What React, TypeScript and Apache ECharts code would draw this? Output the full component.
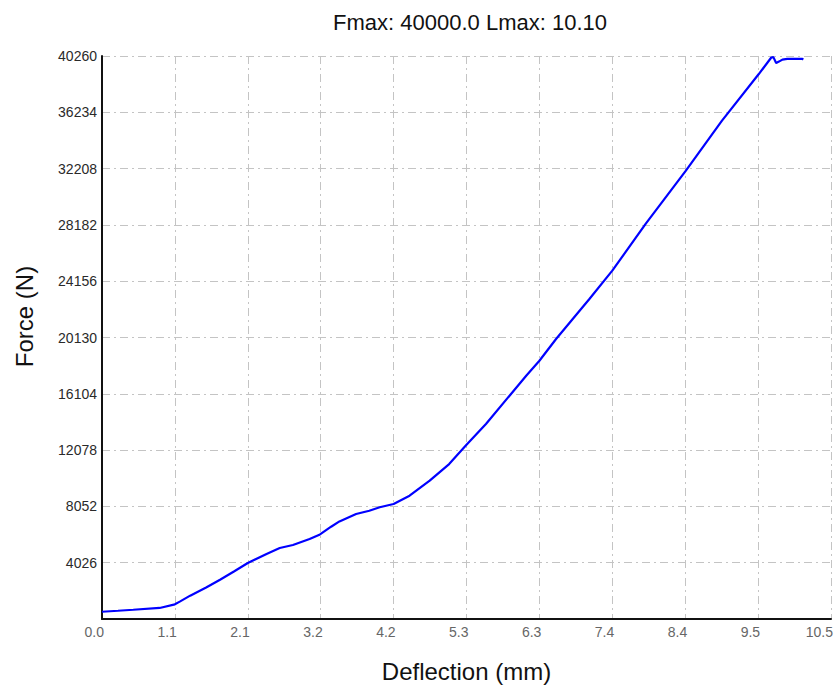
import React, { useEffect, useRef } from "react";
import * as echarts from "echarts";

const titleText = "Fmax: 40000.0 Lmax: 10.10";
const xName = "Deflection (mm)";
const yName = "Force (N)";

const xTickLabels = ["0.0", "1.1", "2.1", "3.2", "4.2", "5.3", "6.3", "7.4", "8.4", "9.5", "10.5"];
const xMin = 0;
const xMax = 10.5;
const xInterval = 1.05;
const yMin = 0;
const yMax = 40260;
const yInterval = 4026;

const deflection = [
  0.0, 0.23, 0.45, 0.83, 1.05, 1.12, 1.27, 1.5, 1.7, 1.9, 2.1, 2.37, 2.56, 2.75, 2.99, 3.14, 3.3, 3.42,
  3.66, 3.85, 4.0, 4.2, 4.43, 4.72, 5.0, 5.24, 5.53, 5.87, 6.11, 6.3, 6.54, 6.78, 7.02, 7.35, 7.83,
  8.41, 8.93, 9.46, 9.64, 9.67, 9.71, 9.75, 9.8, 9.87, 10.09, 10.1,
];
const force = [
  520, 590, 660, 790, 1050, 1240, 1670, 2250, 2810, 3400, 4000, 4650, 5080, 5290, 5720, 6050, 6600, 6980,
  7510, 7745, 7990, 8220, 8820, 9890, 11080, 12400, 13940, 15970, 17400, 18470, 20020, 21450, 22880,
  24910, 28250, 32060, 35640, 38970, 40150, 40180, 39760, 39860, 40000, 40050, 40050, 40000,
];

const FONT = "'Liberation Sans', Arial, sans-serif";

export default function App() {
  const ref = useRef<HTMLDivElement>(null);

  useEffect(() => {
    if (!ref.current) return;
    const chart = echarts.init(ref.current, undefined, { renderer: "svg" });
    const data = deflection.map((x, i) => [x, force[i]]);
    const gridLine = { show: true, lineStyle: { color: "#c4c4c4", width: 1, type: [8, 4, 2, 4] as any } };
    chart.setOption({
      animation: false,
      backgroundColor: "#ffffff",
      title: {
        text: titleText,
        left: 470,
        textAlign: "center",
        top: 11,
        padding: 0,
        textStyle: { fontFamily: FONT, fontSize: 22, fontWeight: "normal", color: "#111" },
      },
      grid: { left: 102, right: 4, top: 56, bottom: 68, containLabel: false },
      xAxis: {
        type: "value",
        min: xMin,
        max: xMax,
        interval: xInterval,
        name: xName,
        nameLocation: "middle",
        nameGap: 40,
        nameTextStyle: { fontFamily: FONT, fontSize: 24, color: "#111" },
        axisLine: { show: true, lineStyle: { color: "#111", width: 2 } },
        axisTick: { show: false },
        axisLabel: {
          fontFamily: FONT,
          fontSize: 14,
          color: "#666",
          align: "right",
          margin: 6,
          padding: [0, -2, 0, 0],
          formatter: (v: number) => xTickLabels[Math.round(v / xInterval)] ?? "",
        },
        splitLine: gridLine,
      },
      yAxis: {
        type: "value",
        min: yMin,
        max: yMax,
        interval: yInterval,
        name: yName,
        nameLocation: "middle",
        nameGap: 66,
        nameTextStyle: { fontFamily: FONT, fontSize: 24, color: "#111", padding: [0, 0, 0, 42] },
        axisLine: { show: true, lineStyle: { color: "#111", width: 2 } },
        axisTick: { show: false },
        axisLabel: {
          fontFamily: FONT,
          fontSize: 14,
          color: "#2a2a2a",
          margin: 5,
          formatter: (v: number) => (v === 0 ? "" : String(Math.round(v))),
        },
        splitLine: gridLine,
      },
      series: [
        {
          type: "line",
          data,
          showSymbol: false,
          smooth: false,
          lineStyle: { color: "#0000ff", width: 2.2 },
        },
      ],
    });
    return () => chart.dispose();
  }, []);

  return (
    <div
      ref={ref}
      style={{ position: "fixed", left: 0, top: 0, width: 836, height: 688, background: "#fff" }}
    />
  );
}
